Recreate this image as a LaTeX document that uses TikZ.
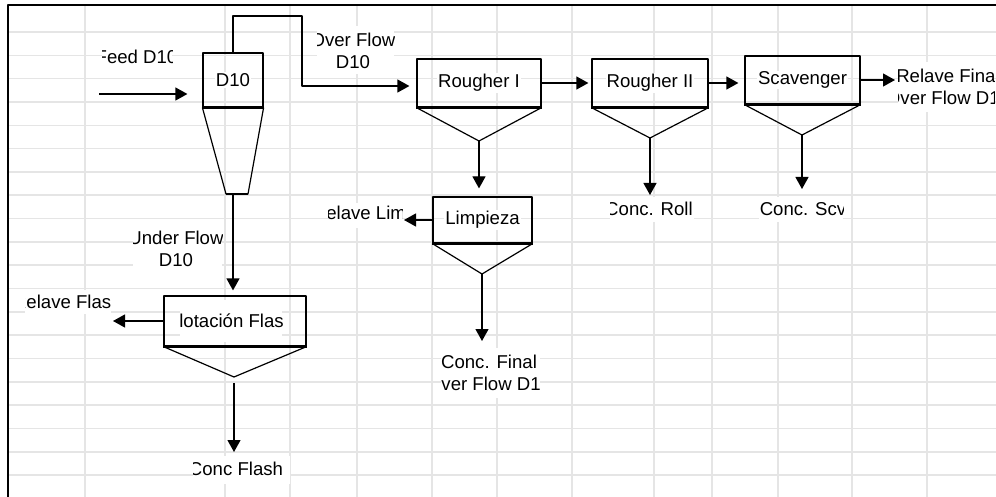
\documentclass[tikz,border=0pt]{standalone}
\usepackage{fontspec}
\setmainfont{Liberation Sans}
\usetikzlibrary{arrows.meta}

\begin{document}
\begin{tikzpicture}[x=1pt, y=-1pt, line join = round,
    every node/.style={font=\fontsize{18.6}{22}\selectfont},
    unit/.style={draw, line width=1.2pt, inner sep=0pt},
    tag/.style={inner sep=1pt, fill=white},
    flow/.style={line width=1.2pt, -{Triangle[length=12pt,width=13pt]}},
    gridline/.style={draw=black!10, line width=1.5pt}]
\useasboundingbox (0,0) rectangle (996,497);

% sheet grid
\foreach \x in {85,225,290,357,432,497,572,654,712,778,852,927}
    \draw[gridline] (\x,5) -- (\x,497);
\foreach \k in {0,...,19}
    \draw[gridline] (8,{32+23.32*\k}) -- (996,{32+23.32*\k});
\draw[line width=2pt] (996,5) -- (8,5) -- (8,497);

% text boxes
\foreach \n/\cx/\cy/\xa/\ya/\xb/\yb/\t in {
    feed/136.5/57/102/42/172/76/{Feed D10},
    ovf/353/50.5/317/26/394/74/{Over Flow\\D10},
    unf/176/248.5/133/222/222/272/{Under Flow\\D10},
    rfin/948/87/898/62/994/112/{Relave Final\\Over Flow D10},
    rlim/381.7/215/328/203/402/228/{Relave Limpieza},
    rfla/67.3/302/25/290/111/314/{Relave Flash},
    flot-t/231/321/180/300/282/342/{Flotación Flash},
    cfla/236/469/193/456/290/484/{Conc Flash},
    cfin/489/373/441/348/540/398/{Conc. Final\\Over Flow D10},
    croll/649/209/610/197/694/222/{Conc. Roll},
    cscv/803/209/759/197/843/222/{Conc. Scv}}
{
    \begin{scope}
    \clip (\xa,\ya) rectangle (\xb,\yb);
    \fill[white] (\xa,\ya) rectangle (\xb,\yb);
    \node[align=center, inner sep=0pt] (\n) at (\cx,\cy) {\t};
    \end{scope}
}

% units
\node[unit, minimum width=60pt, minimum height=54pt] (d10) at (233,80) {};
\node[unit, minimum width=124pt, minimum height=48pt] (r1) at (479,83) {};
\node[unit, minimum width=116pt, minimum height=48pt] (r2) at (650,83) {};
\node[unit, minimum width=115pt, minimum height=48pt] (scv) at (802.5,80) {};
\node[unit, minimum width=99pt, minimum height=46pt] (limp) at (482.5,220) {};
\node[unit, minimum width=142pt, minimum height=50pt] (flot) at (235,321) {};

\node[tag] (d10-t) at (d10) {D10};
\node[tag] (r1-t) at (r1) {Rougher I};
\node[tag] (r2-t) at (r2) {Rougher II};
\node[tag] (scv-t) at (scv) {Scavenger};
\node[tag] (limp-t) at (limp) {Limpieza};

% cone and hoppers
\coordinate (d10-l) at (226,194);
\coordinate (d10-r) at (248,194);
\coordinate (d10-u) at (233,194);
\coordinate (r1-v) at (479,141);
\coordinate (r2-v) at (650,138);
\coordinate (scv-v) at (802,135);
\coordinate (limp-v) at (482,274);
\coordinate (flot-v) at (234,377);
\draw[line width=1.2pt] (d10.south west) -- (d10-l) -- (d10-r) -- (d10.south east);
\draw[line width=2.4pt] (d10-l) -- (d10-r);
\foreach \u in {r1,r2,scv,limp,flot}
    \draw[line width=1.2pt] (\u.south west) -- (\u-v) -- (\u.south east);
\foreach \u in {d10,r1,r2,scv,limp,flot}
    \draw[line width=2.4pt] (\u.south west) -- (\u.south east);

% free ends
\coordinate (feed-in) at (99,94);
\coordinate (ovf-bend) at (302,16);
\coordinate (r2-out) at (650,195);
\coordinate (scv-out) at (802,189);
\coordinate (scv-tail) at (895,80);
\coordinate (limp-out) at (482,341);
\coordinate (limp-tail) at (404,220);
\coordinate (flot-out) at (234,452);
\coordinate (flot-tail) at (113,321);

% streams
\draw[flow, shorten >=15pt] (feed-in) -- (feed-in -| d10.west);
\draw[flow, shorten >=7pt] (d10.north) |- (ovf-bend) |- ([yshift=-3pt]r1.west);
\draw[flow, shorten >=3pt] (r1.east) -- (r2.west);
\draw[flow, shorten >=6pt] (r2.east) -- (r2.east -| scv.west);
\draw[flow] (scv.east) -- (scv-tail);
\draw[flow, shorten >=8pt] (r1-v) -- (r1-v |- limp.north);
\draw[flow] (r2-v) -- (r2-out);
\draw[flow] (scv-v) -- (scv-out);
\draw[flow] (limp.west) -- (limp-tail);
\draw[flow] (limp-v) -- (limp-out);
\draw[flow, shorten >=5pt] (d10-u) -- (d10-u |- flot.north);
\draw[flow, shorten <=6pt] (flot-v) -- (flot-out);
\draw[flow] (flot.west) -- (flot-tail);
\end{tikzpicture}
\end{document}
